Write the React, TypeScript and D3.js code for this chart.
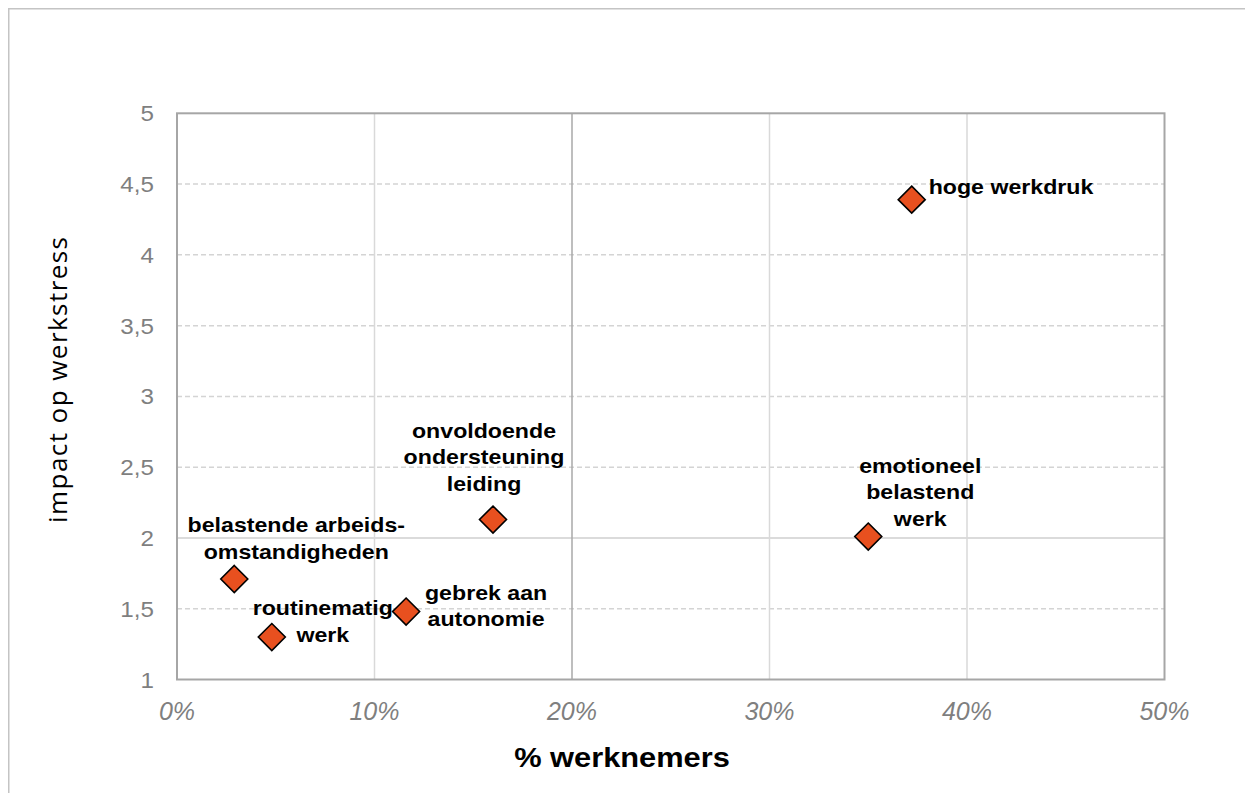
import React from "react";
import * as d3 from "d3";

const categories = [
  "hoge werkdruk",
  "emotioneel belastend werk",
  "onvoldoende ondersteuning leiding",
  "belastende arbeidsomstandigheden",
  "routinematig werk",
  "gebrek aan autonomie",
];
const labelLines = [
  ["hoge werkdruk"],
  ["emotioneel", "belastend", "werk"],
  ["onvoldoende", "ondersteuning", "leiding"],
  ["belastende arbeids-", "omstandigheden"],
  ["routinematig", "werk"],
  ["gebrek aan", "autonomie"],
];
const pctWorkers = [37.2, 35.0, 16.0, 2.9, 4.8, 11.6];
const impact = [4.39, 2.01, 2.13, 1.71, 1.3, 1.48];

const xTicks = [0, 10, 20, 30, 40, 50];
const xTickLabels = ["0%", "10%", "20%", "30%", "40%", "50%"];
const yTicks = [1, 1.5, 2, 2.5, 3, 3.5, 4, 4.5, 5];
const yTickLabels = ["1", "1,5", "2", "2,5", "3", "3,5", "4", "4,5", "5"];

const xTitle = "% werknemers";
const yTitle = "impact op werkstress";

// label layout (offsets from marker, in px)
const labelLayout = [
  { dx: 17, dy: -6, anchor: "start" },
  { dx: 52, dy: -64, anchor: "middle" },
  { dx: -9, dy: -82, anchor: "middle" },
  { dx: 62, dy: -47, anchor: "middle" },
  { dx: 51, dy: -22, anchor: "middle" },
  { dx: 80, dy: -12, anchor: "middle" },
];

const W = 1237;
const H = 785;
const plot = { left: 169, right: 1156.5, top: 105.3, bottom: 671.5 };

export default function App() {
  const x = d3.scaleLinear().domain([0, 50]).range([plot.left, plot.right]);
  const y = d3.scaleLinear().domain([1, 5]).range([plot.bottom, plot.top]);
  const diamond = d3.symbol().type(d3.symbolDiamond2 || d3.symbolSquare).size(1);
  const half = 13.5;
  const diamondPath = `M0,${-half}L${half},0L0,${half}L${-half},0Z`;
  const sx = 1.13;
  const lineH = 26.8;
  void diamond;

  return (
    <svg width={W} height={H} style={{ display: "block" }} fontFamily="'Liberation Sans', Arial, sans-serif">
      <rect x={0} y={0} width={W} height={H} fill="#ffffff" />
      <line x1={0.75} y1={0} x2={0.75} y2={H} stroke="#c4c4c4" strokeWidth={1.5} />
      <line x1={0} y1={0.75} x2={W} y2={0.75} stroke="#c4c4c4" strokeWidth={1.5} />

      {/* horizontal gridlines */}
      {yTicks.filter((t) => t !== 1 && t !== 5).map((t) => (
        <line
          key={"h" + t}
          x1={plot.left}
          x2={plot.right}
          y1={y(t)}
          y2={y(t)}
          stroke={t === 2 ? "#cfcfcf" : "#d4d4d4"}
          strokeWidth={1.5}
          strokeDasharray={t === 2 ? undefined : "5,3"}
        />
      ))}
      {/* vertical gridlines */}
      {xTicks.filter((t) => t !== 0 && t !== 50).map((t) => (
        <line
          key={"v" + t}
          x1={x(t)}
          x2={x(t)}
          y1={plot.top}
          y2={plot.bottom}
          stroke={t === 20 ? "#a9a9a9" : "#d9d9d9"}
          strokeWidth={1.5}
        />
      ))}
      <rect
        x={plot.left}
        y={plot.top}
        width={plot.right - plot.left}
        height={plot.bottom - plot.top}
        fill="none"
        stroke="#a6a6a6"
        strokeWidth={2}
      />

      {/* y tick labels */}
      {yTicks.map((t, i) => (
        <g key={"yt" + t} transform={`translate(146,${y(t) + 8}) scale(1.1,1)`}>
          <text x={0} y={0} textAnchor="end" fontSize={22} fill="#7f7f7f">
            {yTickLabels[i]}
          </text>
        </g>
      ))}
      {/* x tick labels */}
      {xTicks.map((t, i) => (
        <text
          key={"xt" + t}
          x={x(t)}
          y={712}
          textAnchor="middle"
          fontSize={25}
          fontStyle="italic"
          fill="#7f7f7f"
        >
          {xTickLabels[i]}
        </text>
      ))}

      {/* axis titles */}
      <g transform={`translate(${(514 + 730) / 2 - 8},759) scale(1.1,1)`}>
        <text x={0} y={0} textAnchor="middle" fontSize={28} fontWeight="bold" fill="#000">
          {xTitle}
        </text>
      </g>
      <text
        transform="translate(59,372) rotate(-90)"
        x={0}
        y={0}
        textAnchor="middle"
        fontSize={26}
        fontFamily="'Open Sans', 'Noto Sans', sans-serif"
        textLength={286}
        lengthAdjust="spacing"
        fill="#000"
      >
        {yTitle}
      </text>

      {/* markers */}
      {categories.map((c, i) => (
        <path
          key={"m" + c}
          d={diamondPath}
          transform={`translate(${x(pctWorkers[i])},${y(impact[i])})`}
          fill="#e8501f"
          stroke="#000"
          strokeWidth={1.6}
        />
      ))}

      {/* labels */}
      {categories.map((c, i) => {
        const lx = x(pctWorkers[i]) + labelLayout[i].dx;
        const ly = y(impact[i]) + labelLayout[i].dy;
        return (
          <g key={"l" + c} transform={`translate(${lx},${ly}) scale(${sx},1)`}>
            {labelLines[i].map((ln, j) => (
              <text
                key={j}
                x={0}
                y={j * lineH}
                textAnchor={labelLayout[i].anchor}
                fontSize={20.5}
                fontWeight="bold"
                fill="#000"
              >
                {ln}
              </text>
            ))}
          </g>
        );
      })}
    </svg>
  );
}
